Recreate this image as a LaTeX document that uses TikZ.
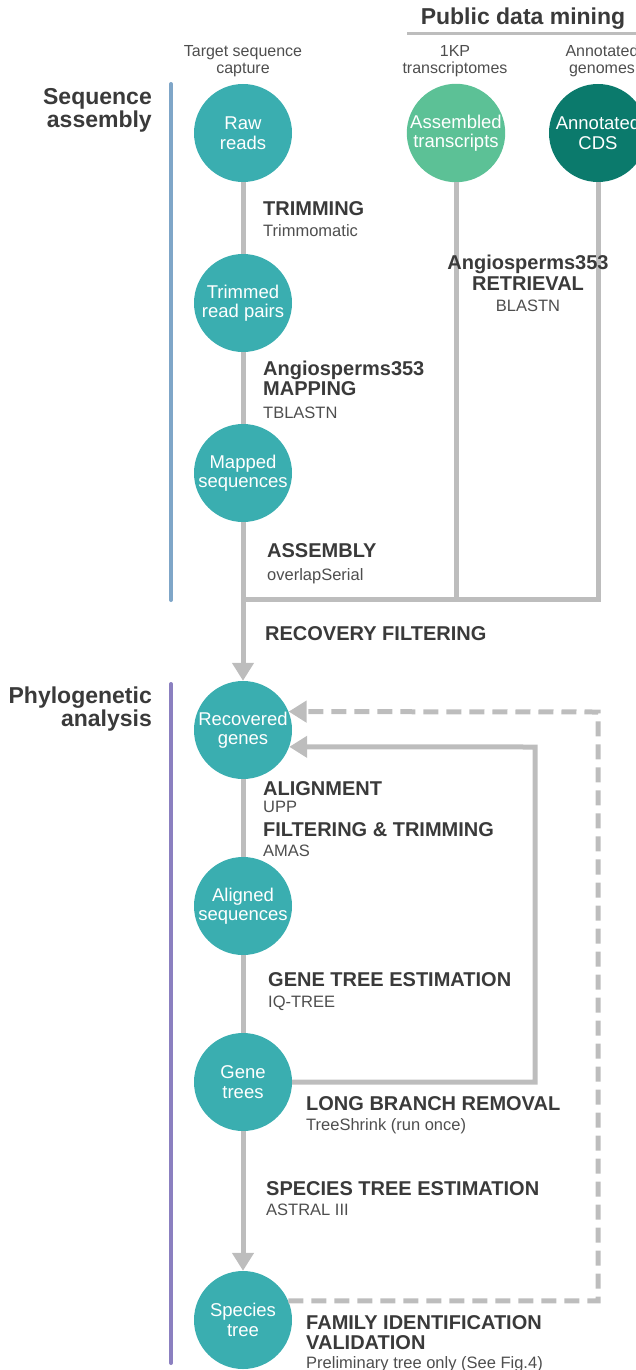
\documentclass[tikz,border=0pt]{standalone}
\usepackage{fontspec}
\setmainfont{Liberation Sans}
\usetikzlibrary{arrows.meta}

\definecolor{stagefill}{HTML}{3AAEB0}
\definecolor{mint}{HTML}{5CC196}
\definecolor{deepteal}{HTML}{0B7A6C}
\definecolor{flow}{HTML}{BDBDBD}
\definecolor{ink}{HTML}{3A3A3A}
\definecolor{inksoft}{HTML}{4E4E4E}
\definecolor{barblue}{HTML}{7FA6C8}
\definecolor{barpurple}{HTML}{8B80C0}

\begin{document}
\begin{tikzpicture}[x=1pt,y=-1pt,
  stage/.style={circle, fill=stagefill, minimum size=98pt, inner sep=0pt,
    text=white, align=center, font=\fontsize{18.5}{19.5}\selectfont},
  head/.style={font=\bfseries\fontsize{23}{25}\selectfont, text=ink, inner sep=0pt},
  src/.style={font=\fontsize{16}{17}\selectfont, text=inksoft, inner sep=0pt, anchor=base},
  stepname/.style={font=\bfseries\fontsize{20}{21}\selectfont, text=ink, inner sep=0pt, anchor=base west},
  tool/.style={font=\fontsize{16.5}{18}\selectfont, text=inksoft, inner sep=0pt, anchor=base west},
  flowline/.style={draw=flow, line width=5pt},
  tip/.style={-{Triangle[length=18pt,width=21pt]}},
  loopdash/.style={dash pattern=on 15pt off 8pt},
  bar/.style={line width=4pt, line cap=round}
]
\useasboundingbox (0,0) rectangle (636,1370);
\clip (0,0) rectangle (636,1370);

% ---- column headings ----
\node[head, anchor=base] (pdm) at (523,25) {Public data mining};
\draw[flow, line width=3pt] (407,34) -- (640,34);
\node[src] (tsc1) at (243,57) {Target sequence};
\node[src] (tsc2) at (243,74) {capture};
\node[src] (kp1) at (455,57) {1KP};
\node[src] (kp2) at (455,74) {transcriptomes};
\node[src] (ag1) at (602,57) {Annotated};
\node[src] (ag2) at (602,74) {genomes};

% ---- section labels and bars ----
\node[head, anchor=base east] (sa1) at (152,105) {Sequence};
\node[head, anchor=base east] (sa2) at (152,128) {assembly};
\draw[bar, barblue] (171,84) -- (171,600);
\node[head, anchor=base east] (pa1) at (152,703) {Phylogenetic};
\node[head, anchor=base east] (pa2) at (152,726) {analysis};
\draw[bar, barpurple] (171,684) -- (171,1363);

% ---- stages ----
\node[stage] (raw)  at (243,133) {Raw\\reads};
\node[stage, fill=mint] (asm) at (456,133) {Assembled\\transcripts};
\node[stage, fill=deepteal] (cds) at (598,133) {Annotated\\CDS};
\node[stage] (trim) at (243,303) {Trimmed\\read pairs};
\node[stage] (map)  at (243,473) {Mapped\\sequences};
\node[stage] (rec)  at (243,730) {Recovered\\genes};
\node[stage] (ali)  at (243,906) {Aligned\\sequences};
\node[stage] (gene) at (243,1082) {Gene\\trees};
\node[stage] (spec) at (243,1320) {Species\\tree};

% ---- connectors ----
\coordinate (join) at (243,599);
\coordinate (joinr) at (598,599);
\coordinate (loopc) at (535,747);
\coordinate (dashc) at (598,712);

\begin{scope}[on background layer/.try]
\draw[flowline] (raw) -- (trim);
\draw[flowline] (trim) -- (map);
\draw[flowline] (asm) -- (asm |- join);
\draw[flowline] (cds) -- (joinr) -- (join);
\draw[flowline, tip] (map) -- (rec);
\draw[flowline] (rec) -- (ali);
\draw[flowline] (ali) -- (gene);
\draw[flowline, tip] (gene) -- (spec);
\draw[flowline, tip] (gene.east) -| (loopc) -- (rec.-20);
\draw[flowline, loopdash, tip] (spec.23) -| (dashc) -- (rec.22);
\end{scope}

% ---- step labels ----
\node[stepname] (l1a) at (263,215) {TRIMMING};
\node[tool]     (l1b) at (263,236) {Trimmomatic};
\node[stepname] (l2a) at (263,375) {Angiosperms353};
\node[stepname] (l2b) at (263,395) {MAPPING};
\node[tool]     (l2c) at (263,418) {TBLASTN};
\node[stepname, anchor=base] (l3a) at (528,269) {Angiosperms353};
\node[stepname, anchor=base] (l3b) at (528,290) {RETRIEVAL};
\node[tool, anchor=base]     (l3c) at (528,311) {BLASTN};
\node[stepname] (l4a) at (267,557) {ASSEMBLY};
\node[tool]     (l4b) at (267,580) {overlapSerial};
\node[stepname] (l5a) at (265,640) {RECOVERY FILTERING};
\node[stepname] (l6a) at (263,795) {ALIGNMENT};
\node[tool]     (l6b) at (263,812) {UPP};
\node[stepname] (l6c) at (263,836) {FILTERING \& TRIMMING};
\node[tool]     (l6d) at (263,856) {AMAS};
\node[stepname] (l7a) at (268,986) {GENE TREE ESTIMATION};
\node[tool]     (l7b) at (268,1007) {IQ-TREE};
\node[stepname] (l8a) at (306,1110) {LONG BRANCH REMOVAL};
\node[tool]     (l8b) at (306,1130) {TreeShrink (run once)};
\node[stepname] (l9a) at (266,1195) {SPECIES TREE ESTIMATION};
\node[tool]     (l9b) at (266,1215) {ASTRAL III};
\node[stepname] (l10a) at (306,1329) {FAMILY IDENTIFICATION};
\node[stepname] (l10b) at (306,1349) {VALIDATION};
\node[tool]     (l10c) at (306,1368) {Preliminary tree only (See Fig.4)};
\end{tikzpicture}
\end{document}
